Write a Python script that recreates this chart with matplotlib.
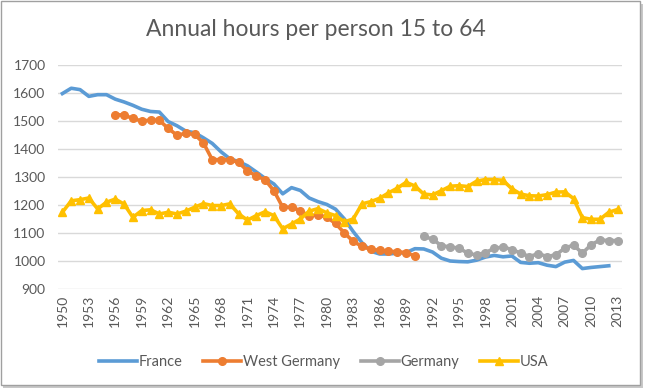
import numpy as np
import matplotlib
matplotlib.use('Agg')
import matplotlib.pyplot as plt
from matplotlib.patches import Rectangle

# %% Data
years = list(range(1950, 2014))

france = [1598, 1617, 1612, 1588, 1594, 1594, 1578, 1568, 1556, 1542,
          1534, 1532, 1498, 1483, 1464, 1458, 1440, 1420, 1390, 1365,
          1355, 1340, 1318, 1295, 1275, 1240, 1262, 1252, 1225, 1212,
          1202, 1185, 1150, 1105, 1065, 1035, 1025, 1025, 1028, 1030,
          1044, 1043, 1032, 1010, 1000, 998, 997, 1003, 1014, 1020,
          1015, 1018, 995, 992, 994, 985, 980, 996, 1002, 973,
          977, 980, 983]

west_germany = [1523, 1521, 1509, 1500, 1503, 1502, 1474, 1449, 1456, 1452,
                1422, 1362, 1362, 1362, 1352, 1322, 1304, 1290, 1251, 1192,
                1192, 1180, 1160, 1166, 1156, 1134, 1100, 1070, 1052, 1042,
                1038, 1035, 1033, 1030, 1018]

germany = [1088, 1078, 1055, 1050, 1046, 1028, 1021, 1030, 1045, 1050,
           1041, 1028, 1016, 1026, 1016, 1022, 1046, 1057, 1028, 1058,
           1075, 1073, 1073]

usa = [1174, 1215, 1219, 1225, 1186, 1210, 1221, 1203, 1156, 1180,
       1183, 1168, 1174, 1168, 1178, 1192, 1205, 1198, 1198, 1204,
       1168, 1146, 1162, 1176, 1162, 1115, 1132, 1150, 1178, 1187,
       1172, 1162, 1140, 1150, 1204, 1212, 1224, 1243, 1260, 1281,
       1268, 1239, 1236, 1251, 1267, 1269, 1266, 1285, 1291, 1291,
       1288, 1258, 1239, 1233, 1232, 1237, 1246, 1247, 1223, 1155,
       1149, 1149, 1174, 1184]

x_labels = [str(y) for y in years]

# %% Plot
plt.rcParams['font.family'] = ['Lato', 'DejaVu Sans']
text_color = '#595959'

fig = plt.figure(figsize=(6.45, 3.89), dpi=100)
ax = fig.add_axes([58 / 645, 1 - 289 / 389, (622 - 58) / 645, (289 - 65) / 389])

pos = np.arange(len(years))
ax.plot(pos[:len(france)], france, color='#5B9BD5', lw=2.6, label='France',
        solid_joinstyle='round')
ax.plot(pos[6:6 + len(west_germany)], west_germany, color='#ED7D31', lw=2.6,
        marker='o', ms=5.5, label='West Germany')
ax.plot(pos[41:41 + len(germany)], germany, color='#A5A5A5', lw=2.6,
        marker='o', ms=5.5, label='Germany')
ax.plot(pos, usa, color='#FFC000', lw=2.6, marker='^', ms=6, label='USA')

ax.set_xlim(-0.5, len(years) - 0.5)
ax.set_ylim(900, 1700)
ax.set_yticks(range(900, 1701, 100))
ax.set_xticks(pos[::3])
ax.set_xticklabels(x_labels[::3], rotation=90)
ax.tick_params(axis='both', length=0, labelsize=10, colors=text_color, pad=4)
ax.tick_params(axis='y', pad=9)
ax.grid(axis='y', color='#D9D9D9', lw=1)
ax.set_axisbelow(True)
for s in ax.spines.values():
    s.set_visible(False)

fig.text(0.49, 1 - 30 / 389, 'Annual hours per person 15 to 64', ha='center',
         va='center', fontsize=16.5, color=text_color)

leg = fig.legend(loc='center', bbox_to_anchor=(0.502, 1 - 362 / 389), ncol=4,
                 frameon=False, fontsize=10.5, handlelength=2.6, handletextpad=0.15,
                 columnspacing=1.4)
for t in leg.get_texts():
    t.set_color(text_color)

# frame and shadow like the screenshot thumbnail
fig.patches.append(Rectangle((3 / 645, 1 / 389), 640 / 645, 384 / 389,
                             transform=fig.transFigure, facecolor='#C8C8C8',
                             edgecolor='none', zorder=-2))
fig.patches.append(Rectangle((0.5 / 645, 4 / 389), 639.5 / 645, 384.5 / 389,
                             transform=fig.transFigure, facecolor='white',
                             edgecolor='#A0A0A0', lw=1, zorder=-1))

fig.savefig('out.png', dpi=100)
